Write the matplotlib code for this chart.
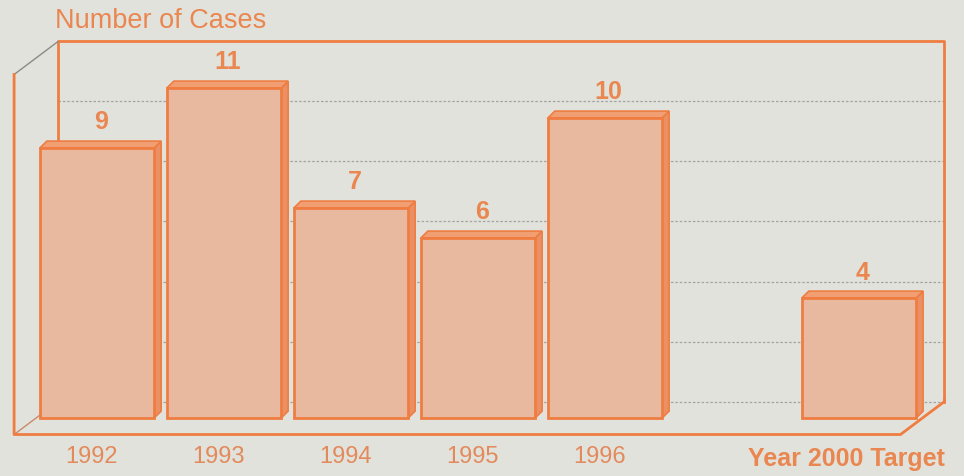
import numpy as np
import matplotlib.pyplot as plt
from matplotlib.patches import Rectangle, Polygon

# Data
years = ['1992', '1993', '1994', '1995', '1996']
cases = [9, 11, 7, 6, 10]
target_label = 'Year 2000 Target'
target_cases = 4
grid_values = [0, 2, 4, 6, 8, 10]
y_top = 12

# Colours
bg = '#e2e2dc'
orange = '#ef7d42'
text_orange = '#ea8650'
face = '#e8b99f'
top_face = '#f09e72'
side_face = '#eb9064'

plt.rcParams['font.family'] = ['Liberation Sans', 'DejaVu Sans']

fig = plt.figure(figsize=(9.64, 4.76), dpi=100, facecolor=bg)
ax = fig.add_axes([0, 0, 1, 1])
ax.set_facecolor(bg)
ax.set_xlim(-0.764, 6.827)
ax.set_ylim(-1.933, 13.933)
ax.axis('off')

# pseudo-3D depth of the chart box and of each bar
box_dx, box_dy = 0.173, 0.55
bar_dx, bar_dy = 0.055, 0.23
width = 0.9
left, right = -0.48, 6.5

positions = list(range(len(years))) + [len(years) + 1]
values = cases + [target_cases]

# back wall: grid lines and frame
for g in grid_values:
    ax.plot([left + box_dx, right + box_dx], [g + box_dy, g + box_dy],
            color='#a3a39f', lw=0.9, ls=(0, (2, 1.5)), zorder=1)
ax.plot([left + box_dx, left + box_dx, right + box_dx, right + box_dx],
        [box_dy, y_top + box_dy, y_top + box_dy, box_dy],
        color=orange, lw=2, zorder=2, solid_joinstyle='round')
# floor diagonals
ax.plot([left - box_dx, left + box_dx], [y_top - box_dy, y_top + box_dy],
        color='#8a8a86', lw=1, zorder=2)
ax.plot([left - box_dx, left + box_dx], [-box_dy, box_dy],
        color='#c98a6a', lw=1, zorder=2)

# bars
for x, v in zip(positions, values):
    x0, x1 = x - width / 2, x + width / 2
    side = Polygon([(x1, 0), (x1 + bar_dx, bar_dy), (x1 + bar_dx, v + bar_dy), (x1, v)],
                   closed=True, facecolor=side_face, edgecolor=orange, lw=1.2, zorder=3)
    top = Polygon([(x0, v), (x1, v), (x1 + bar_dx, v + bar_dy), (x0 + bar_dx, v + bar_dy)],
                  closed=True, facecolor=top_face, edgecolor=orange, lw=1.2, zorder=3)
    front = Rectangle((x0, 0), width, v, facecolor=face, edgecolor=orange,
                      lw=2, zorder=4)
    ax.add_patch(side)
    ax.add_patch(top)
    ax.add_patch(front)
    ax.text(x + 0.03, v + 0.45, str(v), ha='center', va='bottom',
            fontsize=18, fontweight='bold', color=text_orange, zorder=5)

# front frame
ax.plot([left - box_dx, left - box_dx, right - box_dx, right + box_dx, right + box_dx],
        [y_top - box_dy, -box_dy, -box_dy, box_dy, box_dy + 0.05],
        color=orange, lw=2, zorder=6, solid_joinstyle='round')

# category labels
for x, lab in zip(positions[:-1], years):
    ax.text(x - 0.04, -1.3, lab, ha='center', va='center', fontsize=17,
            color='#e28a5c', zorder=6)
ax.text(right + box_dx, -1.38, target_label, ha='right', va='center',
        fontsize=18, fontweight='bold', color=text_orange, zorder=6)

ax.text(left + box_dx - 0.02, y_top + box_dy + 0.25, 'Number of Cases',
        ha='left', va='bottom', fontsize=19.5, color=text_orange, zorder=6)

fig.savefig('out.png', dpi=100, facecolor=bg)
